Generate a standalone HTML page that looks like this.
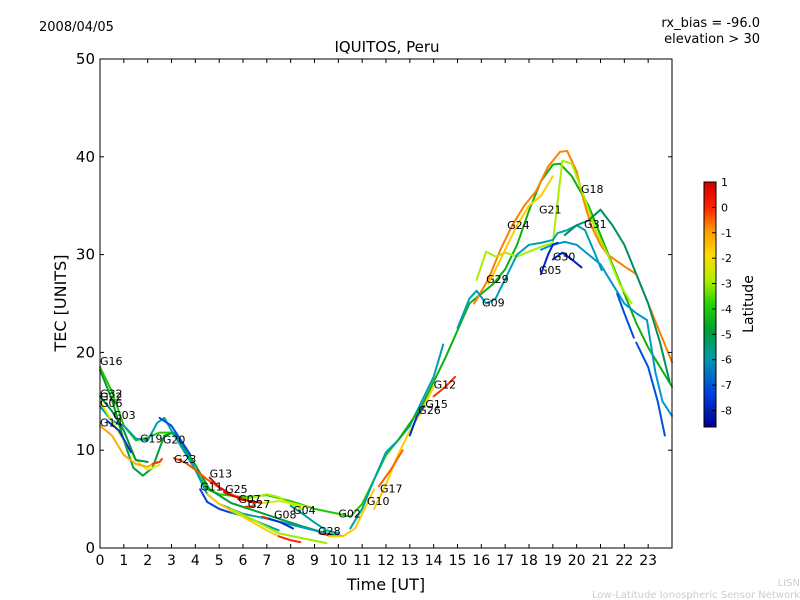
<!DOCTYPE html>
<html><head><meta charset="utf-8"><style>
body{margin:0;background:#fff;}
svg{display:block;font-family:"DejaVu Sans","Liberation Sans",sans-serif;}
</style></head><body>
<svg id="chart" width="800" height="600" viewBox="0 0 800 600">
<defs><linearGradient id="jet" x1="0" y1="0" x2="0" y2="1">
<stop offset="0" stop-color="#d00000"/><stop offset="0.1" stop-color="#ff2000"/><stop offset="0.2" stop-color="#ff9a00"/><stop offset="0.3" stop-color="#ffdc00"/><stop offset="0.4" stop-color="#b0ee00"/><stop offset="0.5" stop-color="#22d400"/><stop offset="0.6" stop-color="#00a030"/><stop offset="0.72" stop-color="#0099aa"/><stop offset="0.86" stop-color="#0040e0"/><stop offset="1" stop-color="#00008f"/></linearGradient></defs>
<text x="39" y="31" font-size="13">2008/04/05</text>
<text x="387" y="52" font-size="15" text-anchor="middle">IQUITOS, Peru</text>
<text x="760" y="27" font-size="13" text-anchor="end">rx_bias = -96.0</text>
<text x="760" y="43" font-size="13" text-anchor="end">elevation &gt; 30</text>
<text transform="translate(66,303) rotate(-90)" font-size="16" text-anchor="middle">TEC [UNITS]</text>
<text x="386" y="590" font-size="16" text-anchor="middle">Time [UT]</text>
<text transform="translate(753,304) rotate(-90)" font-size="14" text-anchor="middle">Latitude</text>
<text x="800" y="586" font-size="10" fill="#ccc" text-anchor="end">LISN</text>
<text x="800" y="598" font-size="10" fill="#ccc" text-anchor="end">Low-Latitude Ionospheric Sensor Network</text>
<g id="plot"></g>
<rect x="704" y="182" width="12" height="245" fill="url(#jet)" stroke="#000" stroke-width="1"/>
<g id="cbar"></g>
</svg>
<script>
const xTicks=[0,1,2,3,4,5,6,7,8,9,10,11,12,13,14,15,16,17,18,19,20,21,22,23];
const yTicks=[0,10,20,30,40,50];
const cbTicks=[1,0,-1,-2,-3,-4,-5,-6,-7,-8];
// tracks: hours / TEC / color
const tracks=[
{c:"#20c800",h:[0,0.5,1,1.5,2,2.5,3,3.5,4,4.5,5,6,7,8,9,10,10.5,11,11.5,12,12.5,13],v:[18.5,16,12.5,11,11.3,11.8,11.8,10.5,8,6,5.5,5.2,5.4,4.8,4,3.5,3.2,4.5,7,9.5,11,12.5]},
{c:"#00a030",h:[0,0.5,1,1.4,1.8,2.2,2.7,3.1,3.6,4,4.6,5.5,6.5,7.5,8.5,9.5,10.2],v:[18.2,15.2,11,8.2,7.4,8.2,11.5,11.8,10,8.5,6,4.6,3.8,3,2.2,1.5,1.2]},
{c:"#0099bb",h:[0,0.5,1,1.5,2,2.4,2.7,3,3.5,4,4.5,5,5.5,6,7,8,9,9.7],v:[14.5,13,12.5,11.2,11,12.8,13.3,12,10,8,5.5,4.5,4,3.5,3,2.4,1.8,1.3]},
{c:"#ddee00",h:[0,0.5,1,1.5,2,2.5],v:[15,13,11,9,8,8.5]},
{c:"#ffaa00",h:[0,0.5,1,1.5,2,2.4],v:[12.5,11.5,9.5,8.6,8.3,8.8]},
{c:"#ff3000",h:[2.2,2.5,2.6],v:[8.6,8.8,9.1]},
{c:"#009040",h:[0,0.5,1,1.5,2],v:[15.5,14,12,9,8.8]},
{c:"#0030d0",h:[0.3,0.8,1.3],v:[13,12,9.8]},
{c:"#0050e0",h:[2.5,3,3.4,3.8],v:[13.3,12.5,11,9.5]},
{c:"#ff5000",h:[3.1,3.6,4,4.5,5,5.5,6,6.5],v:[9.2,8.7,8,7,6.2,5.5,5,4.6]},
{c:"#0040e0",h:[4.2,4.5,5,5.5],v:[6,4.7,4,3.6]},
{c:"#00a0a0",h:[5.5,6,6.5,7,7.5],v:[3.6,3.3,2.8,2.3,1.8]},
{c:"#ffcc00",h:[4.5,5,6,7,7.5],v:[5.5,4.5,3.2,1.8,1.2]},
{c:"#ff2000",h:[7.5,8,8.4],v:[1.2,0.8,0.6]},
{c:"#99ee00",h:[5.5,6.5,7.5,8.5,9.5],v:[4,2.8,1.5,1,0.5]},
{c:"#e00000",h:[5.2,5.6,6],v:[5.7,5.3,5.0]},
{c:"#aaee00",h:[6,6.5,7,7.5,8,8.5],v:[5,5.2,5.5,5.2,4.5,4]},
{c:"#e00000",h:[5.8,6.3,6.8],v:[5,4.8,4.6]},
{c:"#ccee00",h:[6.8,7.5,8,8.7],v:[4.6,4.8,4.6,4.2]},
{c:"#ff3000",h:[6.1,6.5],v:[4.2,4.3]},
{c:"#ff2000",h:[6.8,7.1],v:[3.2,3.0]},
{c:"#0030d0",h:[7.1,7.6,8.1],v:[3.0,2.6,2]},
{c:"#00a0a0",h:[8,8.5,9,9.5,10],v:[4.3,3.5,2.6,1.8,1.5]},
{c:"#ff2000",h:[9.2,9.6],v:[1.5,1.3]},
{c:"#ffcc00",h:[9.6,10.2,10.7,11,11.5],v:[1.2,1.2,2,3.5,6]},
{c:"#ee0000",h:[4.6,5,5.3],v:[7.2,6.2,5.8]},
{c:"#00a0b0",h:[10.5,11,11.5,12,12.5,13,13.5,14,14.4],v:[2,4,7,9.8,11,12.5,15,17.5,20.8]},
{c:"#ffcc00",h:[11.5,12,12.5,13,13.5,14],v:[4,6.5,9.5,12,14,16.5]},
{c:"#0030d0",h:[13,13.3,13.6],v:[11.5,13.5,14.5]},
{c:"#ff3000",h:[14,14.5,14.9],v:[15.5,16.5,17.5]},
{c:"#ff6000",h:[11.7,12.2,12.7],v:[6.3,8,10]},
{c:"#10b010",h:[12.5,13.5,14.5,15.5,16.5,17,17.5,18,18.5,19,19.3,19.8,20.5,21,21.5,22,22.5,23,23.5,24],v:[11,14.5,19.5,25,27,28.5,31,34.5,37.5,39.2,39.3,38,35,32,29,26,23,20.5,18.5,16.5]},
{c:"#ff8000",h:[15.7,16.3,16.8,17.3,17.8,18.3,18.8,19.3,19.6,20,20.3,20.6,21,21.3,22,22.5,23,23.5,24],v:[25,27.5,30.5,33,35,36.5,39,40.5,40.6,38.5,35.5,33,31,30,28.8,28,25,22,19]},
{c:"#aaee00",h:[15.8,16.2,16.6,17,17.5,18,18.5,19,19.4,19.8,20.3,20.8,21.3,21.8,22.3],v:[27.4,30.3,29.8,30.2,29.8,30.3,30.8,31.2,39.6,39.3,36,32.5,30,27,25]},
{c:"#00a0b0",h:[15,15.5,15.8,16.2,16.6,17,17.5,18,18.5,19,19.2,19.6,20,20.35,20.7,21.05],v:[22.5,25.5,26.3,25,25.5,27.5,30,31,31.2,31.5,32.2,32.5,33,32.5,30.5,28.4]},
{c:"#009060",h:[19.5,20,20.5,21,21.5,22,22.5,23,23.5,23.9],v:[32,33,33.5,34.6,33,31,28,25,21,17]},
{c:"#0099cc",h:[18.5,19,19.5,20,20.5,21,21.5,22,22.5,22.95,23.3,23.6,24],v:[30.5,31,31.3,31,30,29,27,25,24,23.3,18,15,13.5]},
{c:"#0020d0",h:[18.5,18.8,19,19.2],v:[28,30,31,31.2]},
{c:"#0020d0",h:[19,19.4,19.8,20.2],v:[29.5,30.2,29.5,28.7]},
{c:"#0050e0",h:[21.7,22,22.4],v:[26,24,21.5]},
{c:"#0050e0",h:[22.5,23,23.4,23.7],v:[21,18.5,15,11.5]},
{c:"#ffcc00",h:[16.3,16.9,17.5,18,18.5,19],v:[27,30,33,35,36,38]}
];
const labelNames=["G16","G32","G22","G06","G03","G14","G19","G20","G23","G13","G11","G25","G07","G27","G08","G04","G02","G28","G10","G17","G26","G15","G12","G09","G29","G24","G21","G05","G30","G31","G18"];
const labelH=[0,0,0,0,0.55,0,1.68,2.64,3.1,4.6,4.2,5.25,5.8,6.2,7.3,8.1,10.0,9.15,11.2,11.75,13.35,13.65,14.0,16.03,16.2,17.08,18.42,18.42,19.0,20.31,20.18];
const labelV=[18.7,15.4,15.1,14.4,13.2,12.4,10.8,10.7,8.7,7.2,5.9,5.6,4.6,4.1,3.0,3.5,3.1,1.35,4.4,5.7,13.7,14.3,16.3,24.7,27.1,32.6,34.2,28.0,29.4,32.7,36.3];

const NS="http://www.w3.org/2000/svg";
const X0=100,X1=672,Y0=548,Y1=59;
const sx=h=>X0+h*(X1-X0)/24, sy=v=>Y0-v*(Y0-Y1)/50;
const cy=l=>182+(1-l)*(245/9.65);
const plot=document.getElementById('plot');
function mk(tag,attrs,parent){const e=document.createElementNS(NS,tag);for(const k in attrs)e.setAttribute(k,attrs[k]);parent.appendChild(e);return e;}
tracks.forEach((t,i)=>{
 const p=mk('polyline',{points:t.h.map((h,j)=>sx(h)+','+sy(t.v[j])).join(' '),fill:'none',stroke:t.c,'stroke-width':2,'stroke-linejoin':'round','stroke-linecap':'round'},plot);
 
 
});
labelNames.forEach((n,i)=>{
 const t=mk('text',{x:sx(labelH[i]),y:sy(labelV[i]),'font-size':11},plot);
 t.textContent=n;
 
 
});
const frame=mk('rect',{x:X0,y:Y1,width:X1-X0,height:Y0-Y1,fill:'none',stroke:'#000','stroke-width':1},plot);


xTicks.forEach(h=>{
 mk('line',{x1:sx(h),x2:sx(h),y1:Y0,y2:Y0-4,stroke:'#000'},plot);
 mk('line',{x1:sx(h),x2:sx(h),y1:Y1,y2:Y1+4,stroke:'#000'},plot);
 const t=mk('text',{x:sx(h),y:Y0+17,'font-size':14,'text-anchor':'middle'},plot);
 t.textContent=h;
 
 
});
yTicks.forEach(v=>{
 mk('line',{x1:X0,x2:X0+4,y1:sy(v),y2:sy(v),stroke:'#000'},plot);
 mk('line',{x1:X1,x2:X1-4,y1:sy(v),y2:sy(v),stroke:'#000'},plot);
 const t=mk('text',{x:X0-5,y:sy(v)+5,'font-size':15,'text-anchor':'end'},plot);
 t.textContent=v;
 
 
});
const cb=document.getElementById('cbar');
cbTicks.forEach(l=>{
 mk('line',{x1:716,x2:712,y1:cy(l),y2:cy(l),stroke:'#000'},cb);
 const t=mk('text',{x:721,y:cy(l)+4,'font-size':11},cb);
 t.textContent=l;
 
 
});
</script>
</body></html>
